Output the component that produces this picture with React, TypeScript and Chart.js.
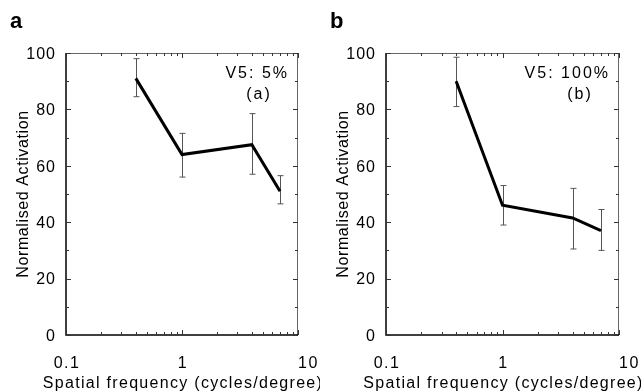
import React, { useEffect, useRef } from "react";
import { Chart, registerables } from "chart.js";

Chart.register(...registerables);

// ---- data ----
const freqs = [0.4, 1, 4, 7];
const actA = [91, 64, 67.5, 51];
const lowA = [84.5, 56, 57, 46.5];
const highA = [98, 71.5, 78.5, 56.5];
const actB = [90, 46, 41.5, 37];
const lowB = [81, 39, 30.5, 30];
const highB = [98.5, 53, 52, 44.5];

const xMajor = [0.1, 1, 10];
const xMajorLabels = ["0.1", "1", "10"];
const xMinor = [0.2, 0.3, 0.4, 0.5, 0.6, 0.7, 0.8, 0.9, 2, 3, 4, 5, 6, 7, 8, 9];
const yMajor = [0, 20, 40, 60, 80, 100];
const yMinor = [10, 30, 50, 70, 90];

const xTitle = "Spatial frequency (cycles/degree)";
const yTitle = "Normalised Activation";

const FONT = "'Liberation Sans', Arial, Helvetica, sans-serif";

interface PanelProps {
  letter: string;
  values: number[];
  low: number[];
  high: number[];
  note1: string;
  note2: string;
  left: number;
  width: number;
}

function Panel({ letter, values, low, high, note1, note2, left, width }: PanelProps) {
  const ref = useRef<HTMLCanvasElement>(null);
  useEffect(() => {
    const canvas = ref.current!;
    const overlay = {
      id: "overlay",
      beforeDatasetsDraw(chart: any) {
        const ctx = chart.ctx;
        const xs = chart.scales.x;
        const ys = chart.scales.y;
        ctx.save();
        ctx.strokeStyle = "#555";
        ctx.lineWidth = 1;
        freqs.forEach((f, i) => {
          const px = Math.round(xs.getPixelForValue(f)) + 0.5;
          const y1 = ys.getPixelForValue(low[i]);
          const y2 = ys.getPixelForValue(high[i]);
          ctx.beginPath();
          ctx.moveTo(px, y1);
          ctx.lineTo(px, y2);
          ctx.moveTo(px - 3, y1);
          ctx.lineTo(px + 3, y1);
          ctx.moveTo(px - 3, y2);
          ctx.lineTo(px + 3, y2);
          ctx.stroke();
        });
        ctx.restore();
      },
      afterDraw(chart: any) {
        const ctx = chart.ctx;
        const { left: l, right: r, top: t, bottom: b } = chart.chartArea;
        const xs = chart.scales.x;
        const ys = chart.scales.y;
        ctx.save();
        // frame
        ctx.strokeStyle = "#666";
        ctx.lineWidth = 1;
        ctx.beginPath();
        ctx.moveTo(l, t + 0.5);
        ctx.lineTo(r, t + 0.5);
        ctx.moveTo(r - 0.5, t);
        ctx.lineTo(r - 0.5, b);
        ctx.stroke();
        ctx.strokeStyle = "#000";
        ctx.lineWidth = 1.5;
        ctx.beginPath();
        ctx.moveTo(l, t);
        ctx.lineTo(l, b);
        ctx.lineTo(r, b);
        ctx.stroke();
        // inside ticks
        ctx.strokeStyle = "#333";
        ctx.lineWidth = 1;
        ctx.beginPath();
        const xt = (v: number, len: number) => {
          const p = Math.round(xs.getPixelForValue(v)) + 0.5;
          ctx.moveTo(p, b);
          ctx.lineTo(p, b - len);
          ctx.moveTo(p, t);
          ctx.lineTo(p, t + len);
        };
        xMajor.forEach((v) => xt(v, 5));
        xMinor.forEach((v) => xt(v, 3));
        const yt = (v: number, len: number) => {
          const p = Math.round(ys.getPixelForValue(v)) + 0.5;
          ctx.moveTo(l, p);
          ctx.lineTo(l + len, p);
          ctx.moveTo(r, p);
          ctx.lineTo(r - len, p);
        };
        yMajor.forEach((v) => yt(v, 5));
        yMinor.forEach((v) => yt(v, 3));
        ctx.stroke();

        ctx.fillStyle = "#000";
        ctx.textBaseline = "alphabetic";
        // tick labels
        ctx.font = `16px ${FONT}`;
        ctx.letterSpacing = "1px";
        ctx.textAlign = "right";
        yMajor.forEach((v) => {
          ctx.fillText(String(v), l - 10, ys.getPixelForValue(v) + 5.7);
        });
        ctx.letterSpacing = "1.5px";
        xMajor.forEach((v, i) => {
          const last = i === xMajor.length - 1;
          ctx.textAlign = last ? "left" : "center";
          ctx.fillText(xMajorLabels[i], xs.getPixelForValue(v) + (last ? 0 : 1), b + 33);
        });
        // axis titles
        ctx.textAlign = "center";
        ctx.letterSpacing = "1.3px";
        ctx.fillText(xTitle, (l + r) / 2 + 1, 388);
        ctx.save();
        ctx.translate(27.5, (t + b) / 2);
        ctx.rotate(-Math.PI / 2);
        ctx.letterSpacing = "0.6px";
        ctx.fillText(yTitle, 0, 0);
        ctx.restore();
        // notes
        ctx.letterSpacing = "2px";
        ctx.textAlign = "right";
        ctx.fillText(note1, r - 9, t + 25);
        ctx.textAlign = "center";
        ctx.fillText(note2, r - 39, t + 46);
        // panel letter
        ctx.letterSpacing = "0px";
        ctx.font = `bold 22px ${FONT}`;
        ctx.textAlign = "left";
        ctx.fillText(letter, 10, 28);
        ctx.restore();
      },
    };
    const chart = new Chart(canvas, {
      type: "line",
      data: {
        datasets: [
          {
            data: freqs.map((f, i) => ({ x: f, y: values[i] })),
            borderColor: "#000",
            borderWidth: 3,
            pointRadius: 0,
            fill: false,
            tension: 0,
          },
        ],
      },
      options: {
        animation: false,
        responsive: false,
        maintainAspectRatio: false,
        devicePixelRatio: 1,
        layout: { padding: { top: 53, right: 22, left: 0, bottom: 0 } },
        plugins: { legend: { display: false }, tooltip: { enabled: false } },
        scales: {
          x: {
            type: "logarithmic",
            min: 0.1,
            max: 10,
            grid: { display: false, drawTicks: false },
            border: { display: false },
            ticks: { display: false },
            afterFit: (s: any) => {
              s.height = 57;
            },
          },
          y: {
            min: 0,
            max: 100,
            grid: { display: false, drawTicks: false },
            border: { display: false },
            ticks: { display: false },
            afterFit: (s: any) => {
              s.width = 66;
            },
          },
        },
      },
      plugins: [overlay],
    } as any);
    return () => chart.destroy();
  }, []);
  return (
    <canvas
      ref={ref}
      width={width}
      height={392}
      style={{ position: "absolute", left, top: 0, width, height: 392 }}
    />
  );
}

export default function App() {
  return (
    <div style={{ position: "fixed", left: 0, top: 0, width: 641, height: 392, background: "#fff" }}>
      <Panel letter="a" values={actA} low={lowA} high={highA} note1="V5: 5%" note2="(a)" left={0} width={320} />
      <Panel letter="b" values={actB} low={lowB} high={highB} note1="V5: 100%" note2="(b)" left={320} width={321} />
    </div>
  );
}
